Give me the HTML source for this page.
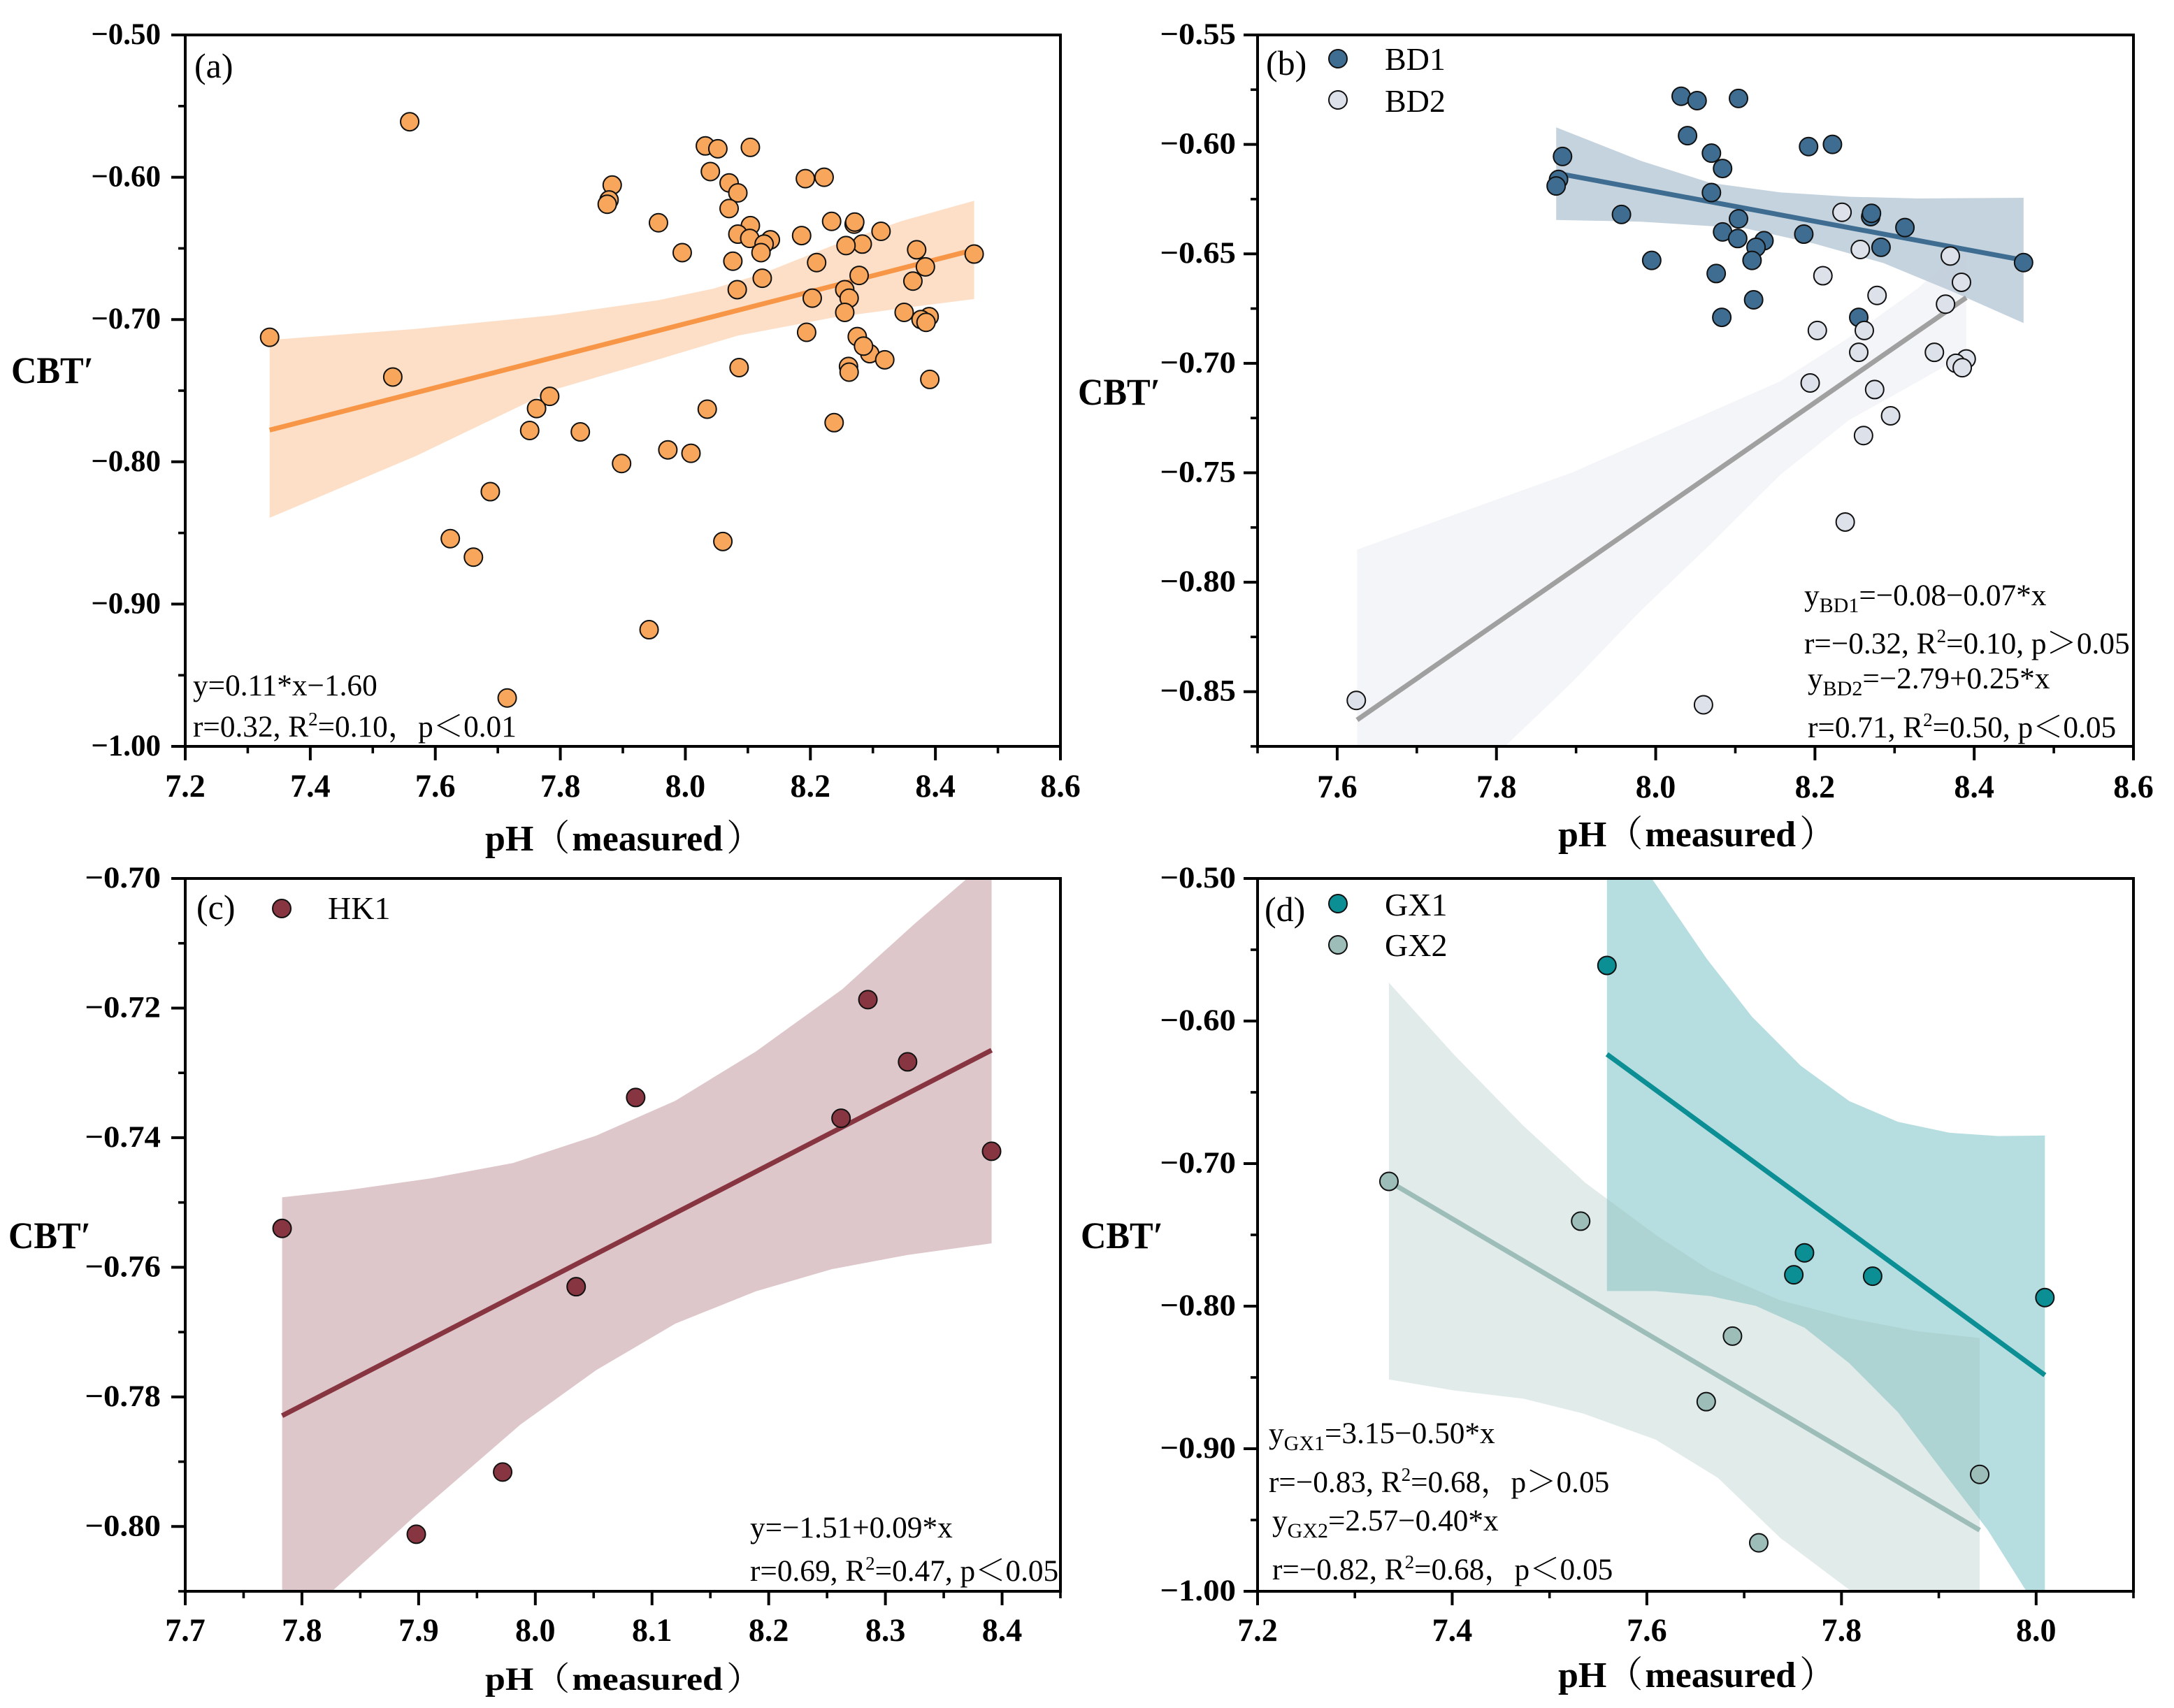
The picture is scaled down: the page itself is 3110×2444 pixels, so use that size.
<!DOCTYPE html>
<html lang="en">
<head>
<meta charset="utf-8">
<title>CBT′ versus measured pH</title>
<style>
html,body{margin:0;padding:0;background:#fff;}
svg{display:block;}
text{font-family:"Liberation Serif","Noto Serif CJK SC",serif;fill:#000;}
.tick{font-size:47px;font-weight:bold;}
.ytick{font-size:43px;font-weight:bold;}
.title{font-size:52px;font-weight:bold;}
.paren{font-weight:normal;}
.ylab{font-size:52px;font-weight:bold;}
.note{font-size:43.3px;}
.letter{font-size:50px;}
.leg{font-size:46px;}
.spine{fill:none;stroke:#000;stroke-width:4;}
</style>
</head>
<body>
<svg id="figure" xmlns="http://www.w3.org/2000/svg" width="3110" height="2444" viewBox="0 0 3110 2444">
<defs>
<clipPath id="clip-a"><rect x="265" y="50" width="1252" height="1018"/></clipPath>
<clipPath id="clip-b"><rect x="1799" y="50" width="1253" height="1018"/></clipPath>
<clipPath id="clip-c"><rect x="265" y="1257" width="1252" height="1020"/></clipPath>
<clipPath id="clip-d"><rect x="1799" y="1257" width="1253" height="1020"/></clipPath>
</defs>

<g id="panel-a">
  <g id="marks-a" clip-path="url(#clip-a)"></g>
  <g id="axes-a"></g>
  <rect class="spine" x="265" y="50" width="1252" height="1018"/>
  <text class="letter" x="278" y="111">(a)</text>
  <text class="ylab" transform="translate(16,548) scale(.97,1.03)">CBT′</text>
  <text class="title" x="694" y="1217">pH<tspan class="paren">（</tspan><tspan dx="3">measured</tspan><tspan class="paren" dx="5">）</tspan></text>
  <text class="note" x="276" y="995">y=0.11*x−1.60</text>
  <text class="note" x="276" y="1054">r=0.32, R<tspan dy="-16" font-size="27">2</tspan><tspan dy="16">=0.10，p＜0.01</tspan></text>
</g>

<g id="panel-b">
  <g id="marks-b" clip-path="url(#clip-b)"></g>
  <g id="axes-b"></g>
  <rect class="spine" x="1799" y="50" width="1253" height="1018"/>
  <text class="letter" x="1811" y="107">(b)</text>
  <text class="ylab" transform="translate(1542,579) scale(.97,1.03)">CBT′</text>
  <text class="title" x="2229" y="1211">pH<tspan class="paren">（</tspan><tspan dx="3">measured</tspan><tspan class="paren" dx="5">）</tspan></text>
  <circle cx="1914" cy="84" r="13" fill="#3E6D91" stroke="#111" stroke-width="2"/>
  <text class="leg" x="1981" y="100">BD1</text>
  <circle cx="1914" cy="143" r="13" fill="#DDE1EA" stroke="#111" stroke-width="2"/>
  <text class="leg" x="1981" y="160">BD2</text>
  <text class="note" x="2581" y="866">y<tspan dy="10" font-size="30">BD1</tspan><tspan dy="-10">=−0.08−0.07*x</tspan></text>
  <text class="note" x="2581" y="935">r=−0.32, R<tspan dy="-16" font-size="27">2</tspan><tspan dy="16">=0.10, p＞0.05</tspan></text>
  <text class="note" x="2586" y="985">y<tspan dy="10" font-size="30">BD2</tspan><tspan dy="-10">=−2.79+0.25*x</tspan></text>
  <text class="note" x="2586" y="1055">r=0.71, R<tspan dy="-16" font-size="27">2</tspan><tspan dy="16">=0.50, p＜0.05</tspan></text>
</g>

<g id="panel-c">
  <g id="marks-c" clip-path="url(#clip-c)"></g>
  <g id="axes-c"></g>
  <rect class="spine" x="265" y="1257" width="1252" height="1020"/>
  <text class="letter" x="281" y="1315">(c)</text>
  <text class="ylab" transform="translate(12,1786) scale(.97,1.03)">CBT′</text>
  <text class="title" transform="translate(694,2418) scale(1,.9)">pH<tspan class="paren">（</tspan><tspan dx="3">measured</tspan><tspan class="paren" dx="5">）</tspan></text>
  <circle cx="403" cy="1300" r="13" fill="#873540" stroke="#111" stroke-width="2"/>
  <text class="leg" x="469" y="1315">HK1</text>
  <text class="note" x="1073" y="2200">y=−1.51+0.09*x</text>
  <text class="note" x="1073" y="2262">r=0.69, R<tspan dy="-16" font-size="27">2</tspan><tspan dy="16">=0.47, p＜0.05</tspan></text>
</g>

<g id="panel-d">
  <g id="marks-d" clip-path="url(#clip-d)"></g>
  <g id="axes-d"></g>
  <rect class="spine" x="1799" y="1257" width="1253" height="1020"/>
  <text class="letter" x="1809" y="1318">(d)</text>
  <text class="ylab" transform="translate(1546,1786) scale(.97,1.03)">CBT′</text>
  <text class="title" x="2229" y="2414">pH<tspan class="paren">（</tspan><tspan dx="3">measured</tspan><tspan class="paren" dx="5">）</tspan></text>
  <circle cx="1914" cy="1293" r="13" fill="#0C8F94" stroke="#111" stroke-width="2"/>
  <text class="leg" x="1981" y="1310">GX1</text>
  <circle cx="1914" cy="1352" r="13" fill="#9DBDB9" stroke="#111" stroke-width="2"/>
  <text class="leg" x="1981" y="1368">GX2</text>
  <text class="note" x="1815" y="2065">y<tspan dy="10" font-size="30">GX1</tspan><tspan dy="-10">=3.15−0.50*x</tspan></text>
  <text class="note" x="1815" y="2135">r=−0.83, R<tspan dy="-16" font-size="27">2</tspan><tspan dy="16">=0.68，p＞0.05</tspan></text>
  <text class="note" x="1820" y="2190">y<tspan dy="10" font-size="30">GX2</tspan><tspan dy="-10">=2.57−0.40*x</tspan></text>
  <text class="note" x="1820" y="2260">r=−0.82, R<tspan dy="-16" font-size="27">2</tspan><tspan dy="16">=0.68，p＜0.05</tspan></text>
</g>
</svg>

<script>
// ---- scatter values ----
const phBD1 = [8.032,8.052,8.104,8.04,8.07,8.084,7.883,7.878,7.875,8.07,8.192,8.222,7.957,8.104,8.084,8.103,8.186,8.27,8.271,8.313,8.283,8.136,8.126,8.121,7.995,8.076,8.123,8.083,8.255,8.462];
const cbtBD1 = [-0.578,-0.58,-0.579,-0.596,-0.604,-0.611,-0.6055,-0.616,-0.619,-0.622,-0.601,-0.6,-0.632,-0.634,-0.64,-0.643,-0.641,-0.633,-0.6315,-0.638,-0.647,-0.644,-0.647,-0.653,-0.653,-0.659,-0.671,-0.679,-0.679,-0.654];
const phBD2 = [8.234,8.257,8.37,8.21,8.384,8.278,8.364,8.203,8.262,8.255,8.35,8.39,8.377,8.385,8.194,8.275,8.295,8.261,8.238,7.624,8.06];
const cbtBD2 = [-0.631,-0.648,-0.651,-0.66,-0.663,-0.669,-0.673,-0.685,-0.685,-0.695,-0.695,-0.698,-0.7,-0.702,-0.709,-0.712,-0.724,-0.733,-0.7725,-0.854,-0.856];
const phHK1 = [7.783,7.898,7.972,8.035,8.086,8.262,8.285,8.319,8.391];
const cbtHK1 = [-0.754,-0.8012,-0.7916,-0.763,-0.7338,-0.737,-0.7187,-0.7283,-0.7421];
const phGX1 = [7.559,7.762,7.751,7.832,8.009];
const cbtGX1 = [-0.561,-0.7626,-0.778,-0.779,-0.794];
const phGX2 = [7.335,7.532,7.688,7.661,7.715,7.942];
const cbtGX2 = [-0.7125,-0.7404,-0.821,-0.867,-0.966,-0.918];

// ---- regression lines (end values) ----
const fitAllX = [7.335,8.462];
const fitAllY = [-0.7777,-0.651];
const fitBD1X = [7.875,8.462];
const fitBD1Y = [-0.6131,-0.6529];
const fitBD2X = [7.625,8.39];
const fitBD2Y = [-0.8629,-0.67];
const fitHK1X = [7.783,8.391];
const fitHK1Y = [-0.7829,-0.7265];
const fitGX1X = [7.559,8.009];
const fitGX1Y = [-0.6233,-0.8484];
const fitGX2X = [7.335,7.942];
const fitGX2Y = [-0.7125,-0.9571];

// ---- confidence bands ----
const bandAllUpX = [7.335,7.569,7.79,7.957,8.045,8.123,8.234,8.345,8.462];
const bandAllUpY = [-0.7144,-0.7066,-0.6969,-0.6864,-0.6783,-0.6678,-0.6483,-0.6309,-0.6165];
const bandAllLoX = [7.335,7.569,7.79,7.957,8.084,8.234,8.345,8.462];
const bandAllLoY = [-0.8394,-0.7959,-0.7493,-0.728,-0.7113,-0.6988,-0.6922,-0.6856];
const bandBD1UpX = [7.875,7.982,8.069,8.156,8.243,8.33,8.462];
const bandBD1UpY = [-0.5922,-0.6076,-0.6176,-0.6219,-0.6239,-0.6247,-0.6244];
const bandBD1LoX = [7.875,7.982,8.112,8.199,8.286,8.373,8.462];
const bandBD1LoY = [-0.6345,-0.6353,-0.6383,-0.6453,-0.6542,-0.6673,-0.6816];
const bandBD2UpX = [7.625,7.895,8.069,8.156,8.243,8.33,8.39];
const bandBD2UpY = [-0.7851,-0.7499,-0.7222,-0.7083,-0.6882,-0.6655,-0.6466];
const bandBD2LoX = [7.625,7.812,7.895,7.982,8.069,8.156,8.243,8.33,8.39];
const bandBD2LoY = [-0.9426,-0.8746,-0.8457,-0.8128,-0.7826,-0.7511,-0.7259,-0.7083,-0.6957];
const bandHK1UpX = [7.783,7.839,7.91,7.981,8.052,8.12,8.189,8.263,8.325,8.37,8.391];
const bandHK1UpY = [-0.7492,-0.7481,-0.7463,-0.7439,-0.7397,-0.7343,-0.7267,-0.7171,-0.707,-0.7,-0.6965];
const bandHK1LoX = [7.783,7.827,7.898,7.987,8.052,8.12,8.189,8.254,8.319,8.391];
const bandHK1LoY = [-0.8206,-0.8098,-0.7982,-0.7843,-0.7759,-0.7687,-0.7637,-0.7603,-0.7581,-0.7563];
const bandGX1UpX = [7.559,7.605,7.662,7.708,7.758,7.808,7.858,7.911,7.961,8.009];
const bandGX1UpY = [-0.43,-0.5,-0.5567,-0.5969,-0.6313,-0.6562,-0.6707,-0.6784,-0.6807,-0.6803];
const bandGX1LoX = [7.559,7.609,7.665,7.712,7.762,7.808,7.858,7.907,7.95,7.989,8.009];
const bandGX1LoY = [-0.7894,-0.7894,-0.7929,-0.7998,-0.8151,-0.84,-0.8744,-0.9185,-0.9567,-0.9989,-1.018];
const bandGX2UpX = [7.335,7.402,7.473,7.537,7.609,7.665,7.737,7.808,7.879,7.942];
const bandGX2UpY = [-0.5731,-0.6237,-0.6734,-0.7136,-0.75,-0.7749,-0.7959,-0.8086,-0.8177,-0.8224];
const bandGX2LoX = [7.335,7.402,7.473,7.534,7.609,7.673,7.737,7.808,7.879,7.942];
const bandGX2LoY = [-0.8514,-0.8591,-0.8649,-0.8752,-0.8936,-0.9204,-0.9625,-0.9989,-1.037,-1.068];

// ---- tick labels ----
const xTickLabelsA = ['7.2','7.4','7.6','7.8','8.0','8.2','8.4','8.6'];
const xMinorTicksA = [7.3,7.5,7.7,7.9,8.1,8.3,8.5];
const yTickLabelsA = ['−0.50','−0.60','−0.70','−0.80','−0.90','−1.00'];
const yMinorTicksA = [-0.55,-0.65,-0.75,-0.85,-0.95];
const xTickLabelsB = ['7.6','7.8','8.0','8.2','8.4','8.6'];
const xMinorTicksB = [7.5,7.7,7.9,8.1,8.3,8.5];
const yTickLabelsB = ['−0.55','−0.60','−0.65','−0.70','−0.75','−0.80','−0.85'];
const yMinorTicksB = [-0.575,-0.625,-0.675,-0.725,-0.775,-0.825,-0.875];
const xTickLabelsC = ['7.7','7.8','7.9','8.0','8.1','8.2','8.3','8.4'];
const xMinorTicksC = [7.75,7.85,7.95,8.05,8.15,8.25,8.35,8.45];
const yTickLabelsC = ['−0.70','−0.72','−0.74','−0.76','−0.78','−0.80'];
const yMinorTicksC = [-0.71,-0.73,-0.75,-0.77,-0.79,-0.81];
const xTickLabelsD = ['7.2','7.4','7.6','7.8','8.0'];
const xMinorTicksD = [7.3,7.5,7.7,7.9,8.1];
const yTickLabelsD = ['−0.50','−0.60','−0.70','−0.80','−0.90','−1.00'];
const yMinorTicksD = [-0.55,-0.65,-0.75,-0.85,-0.95];

const NS = 'http://www.w3.org/2000/svg';

function make(tag, parent, attrs) {
  const el = document.createElementNS(NS, tag);
  for (const k in attrs) el.setAttribute(k, attrs[k]);
  parent.appendChild(el);
  return el;
}
function axisFn(d0, d1, p0, p1) {
  return function (v) { return p0 + (v - d0) / (d1 - d0) * (p1 - p0); };
}
function num(label) { return parseFloat(label.replace('−', '-')); }

function drawBand(layer, sx, sy, upX, upY, loX, loY, fill, alpha, name) {
  const pts = [];
  upX.forEach(function (x, i) { pts.push(sx(x).toFixed(1) + ',' + sy(upY[i]).toFixed(1)); });
  for (let i = loX.length - 1; i >= 0; i--) pts.push(sx(loX[i]).toFixed(1) + ',' + sy(loY[i]).toFixed(1));
  const el = make('polygon', layer, { points: pts.join(' '), fill: fill, 'fill-opacity': alpha });
  
  
}
function drawFit(layer, sx, sy, xs, ys, color, name) {
  const el = make('line', layer, { x1: sx(xs[0]), y1: sy(ys[0]), x2: sx(xs[1]), y2: sy(ys[1]), stroke: color, 'stroke-width': 7 });
  
  
}
function drawPoints(layer, sx, sy, xs, ys, color, name) {
  xs.forEach(function (x, i) {
    const el = make('circle', layer, { cx: sx(x), cy: sy(ys[i]), r: 13, fill: color, stroke: '#111', 'stroke-width': 2 });
    
    
  });
}
function drawAxes(layer, sx, sy, x0, y1, xLabels, xMinor, yLabels, yMinor, xBase, yRight, yStretch) {
  xLabels.forEach(function (lab) {
    const px = sx(num(lab));
    const tick = make('line', layer, { x1: px, x2: px, y1: y1, y2: y1 + 20, stroke: '#000', 'stroke-width': 4 });
    
    
    const t = make('text', layer, { class: 'tick', 'text-anchor': 'middle', transform: 'translate(' + px + ',' + xBase + ') scale(.98,1)' });
    t.textContent = lab;
    
    
  });
  xMinor.forEach(function (v) {
    const px = sx(v);
    const tick = make('line', layer, { x1: px, x2: px, y1: y1, y2: y1 + 10, stroke: '#000', 'stroke-width': 3.6 });
    
    
  });
  yLabels.forEach(function (lab) {
    const py = sy(num(lab));
    const tick = make('line', layer, { x1: x0 - 20, x2: x0, y1: py, y2: py, stroke: '#000', 'stroke-width': 4 });
    
    
    const t = make('text', layer, { class: 'ytick', 'text-anchor': 'end', transform: 'translate(' + yRight + ',' + (py + 13) + ') scale(' + yStretch + ',1)' });
    t.textContent = lab;
    
    
  });
  yMinor.forEach(function (v) {
    const py = sy(v);
    const tick = make('line', layer, { x1: x0 - 10, x2: x0, y1: py, y2: py, stroke: '#000', 'stroke-width': 3.6 });
    
    
  });
}

// Panel (a): every site pooled
(function () {
  const sx = axisFn(7.2, 8.6, 265, 1517);
  const sy = axisFn(-0.5, -1.0, 50, 1068);
  const m = document.getElementById('marks-a');
  const allX = phBD1.concat(phBD2, phHK1, phGX1, phGX2);
  const allY = cbtBD1.concat(cbtBD2, cbtHK1, cbtGX1, cbtGX2);
  drawBand(m, sx, sy, bandAllUpX, bandAllUpY, bandAllLoX, bandAllLoY, '#F79646', 0.3, 'confidence-band-all');
  drawFit(m, sx, sy, fitAllX, fitAllY, '#F79646', 'fit-line-all');
  drawPoints(m, sx, sy, allX, allY, '#F7A65C', 'point-all');
  drawAxes(document.getElementById('axes-a'), sx, sy, 265, 1068, xTickLabelsA, xMinorTicksA, yTickLabelsA, yMinorTicksA, 1140, 230, 1);
})();

// Panel (b): BD1, BD2
(function () {
  const sx = axisFn(7.5, 8.6, 1799, 3052);
  const sy = axisFn(-0.55, -0.875, 50, 1068);
  const m = document.getElementById('marks-b');
  drawBand(m, sx, sy, bandBD1UpX, bandBD1UpY, bandBD1LoX, bandBD1LoY, '#3E6D91', 0.3, 'confidence-band-bd1');
  drawBand(m, sx, sy, bandBD2UpX, bandBD2UpY, bandBD2LoX, bandBD2LoY, '#C8CEDA', 0.2, 'confidence-band-bd2');
  drawFit(m, sx, sy, fitBD1X, fitBD1Y, '#3E6D91', 'fit-line-bd1');
  drawFit(m, sx, sy, fitBD2X, fitBD2Y, '#A0A0A0', 'fit-line-bd2');
  drawPoints(m, sx, sy, phBD1, cbtBD1, '#3E6D91', 'point-bd1');
  drawPoints(m, sx, sy, phBD2, cbtBD2, '#DDE1EA', 'point-bd2');
  drawAxes(document.getElementById('axes-b'), sx, sy, 1799, 1068, xTickLabelsB, xMinorTicksB, yTickLabelsB, yMinorTicksB, 1141, 1768, 1.09);
})();

// Panel (c): HK1
(function () {
  const sx = axisFn(7.7, 8.45, 265, 1517);
  const sy = axisFn(-0.70, -0.81, 1257, 2277);
  const m = document.getElementById('marks-c');
  drawBand(m, sx, sy, bandHK1UpX, bandHK1UpY, bandHK1LoX, bandHK1LoY, '#873540', 0.28, 'confidence-band-hk1');
  drawFit(m, sx, sy, fitHK1X, fitHK1Y, '#873540', 'fit-line-hk1');
  drawPoints(m, sx, sy, phHK1, cbtHK1, '#873540', 'point-hk1');
  drawAxes(document.getElementById('axes-c'), sx, sy, 265, 2277, xTickLabelsC, xMinorTicksC, yTickLabelsC, yMinorTicksC, 2348, 230, 1.09);
})();

// Panel (d): GX1, GX2
(function () {
  const sx = axisFn(7.2, 8.1, 1799, 3052);
  const sy = axisFn(-0.5, -1.0, 1257, 2277);
  const m = document.getElementById('marks-d');
  drawBand(m, sx, sy, bandGX1UpX, bandGX1UpY, bandGX1LoX, bandGX1LoY, '#0C8F94', 0.3, 'confidence-band-gx1');
  drawBand(m, sx, sy, bandGX2UpX, bandGX2UpY, bandGX2LoX, bandGX2LoY, '#9DBDB9', 0.3, 'confidence-band-gx2');
  drawFit(m, sx, sy, fitGX1X, fitGX1Y, '#0C8F94', 'fit-line-gx1');
  drawFit(m, sx, sy, fitGX2X, fitGX2Y, '#9DBDB9', 'fit-line-gx2');
  drawPoints(m, sx, sy, phGX1, cbtGX1, '#0C8F94', 'point-gx1');
  drawPoints(m, sx, sy, phGX2, cbtGX2, '#9DBDB9', 'point-gx2');
  drawAxes(document.getElementById('axes-d'), sx, sy, 1799, 2277, xTickLabelsD, xMinorTicksD, yTickLabelsD, yMinorTicksD, 2348, 1768, 1.09);
})();
</script>
</body>
</html>
